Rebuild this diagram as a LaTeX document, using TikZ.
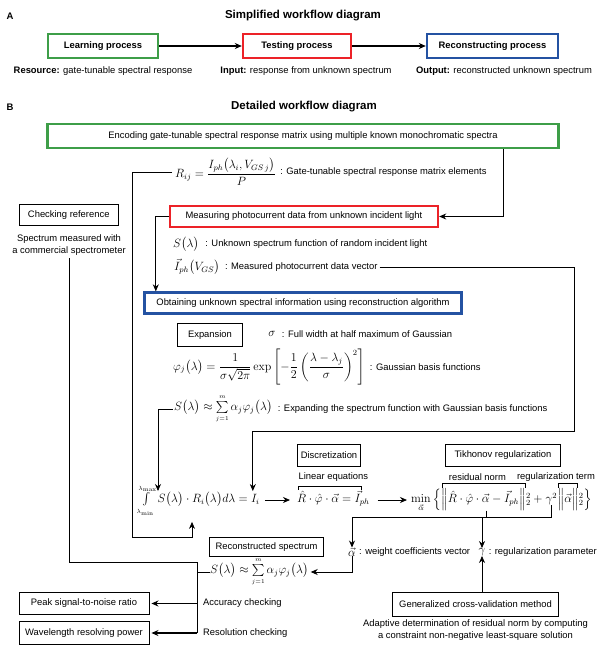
\documentclass[tikz,border=0pt]{standalone}
\usepackage[no-math]{fontspec}
\setmainfont{Liberation Sans}
\usepackage{amsmath}
\usetikzlibrary{arrows.meta,calc,positioning}
\definecolor{learnGreen}{RGB}{62,158,72}
\definecolor{testRed}{RGB}{236,34,40}
\definecolor{reconBlue}{RGB}{36,82,162}

\begin{document}
\begin{tikzpicture}
[x=1pt,y=-1pt,
  procDecorate/.style={shape=rectangle,draw,line width=2.4pt,inner sep=0pt,font=\fontsize{9.4}{11}\selectfont\bfseries},%
  stageDecorate/.style={shape=rectangle,draw,line width=2.4pt,inner sep=0pt,font=\fontsize{9.4}{11}\selectfont},%
  boxDecorate/.style={shape=rectangle,draw,line width=0.9pt,inner sep=0pt,font=\fontsize{9.4}{11}\selectfont},%
  textDecorate/.style={inner sep=0pt,font=\fontsize{9.4}{11.5}\selectfont},%
  eqDecorate/.style={inner sep=0pt,font=\fontsize{11.5}{13}\selectfont},%
  lineDecorate/.style={-,line width=0.8pt},%
  arrowDecorate/.style={-{Stealth[length=7pt,width=6pt]},line width=0.8pt},%
  braceDecorate/.style={-,line width=0.7pt}]
\useasboundingbox (0,0) rectangle (605,659);
%% headings
\node (labelA) at (10,16) [font=\fontsize{9.5}{11}\selectfont\bfseries] {A};
\node (titleA) at (303,16) [font=\fontsize{11.5}{13}\selectfont\bfseries] {Simplified workflow diagram};
\node (labelB) at (10,107) [font=\fontsize{9.5}{11}\selectfont\bfseries] {B};
\node (titleB) at (304,107) [font=\fontsize{11.5}{13}\selectfont\bfseries] {Detailed workflow diagram};
%% simplified workflow
\foreach \nodename/\x/\w/\col/\txt in {learn/103/110/learnGreen/Learning process, test/297/108/testRed/Testing process, recon/492.5/131/reconBlue/Reconstructing process}
{
  \node (\nodename) at (\x,46) [procDecorate,draw=\col,minimum width=\w pt,minimum height=24pt] {\txt};
}
\foreach \nodename/\x/\key/\txt in {resource/103/Resource/gate-tunable spectral response, input/306/Input/response from unknown spectrum, output/504/Output/reconstructed unknown spectrum}
{
  \node (\nodename) at (\x,71) [textDecorate] {\textbf{\key:} \txt};
}
\draw[arrowDecorate,line width=1.2pt] (learn) -- (test);
\draw[arrowDecorate,line width=1.2pt] (test) -- (recon);
%% detailed workflow: coloured stages
\node (encode) at (303,136) [stageDecorate,draw=learnGreen,minimum width=511pt,minimum height=24pt] {Encoding gate-tunable spectral response matrix using multiple known monochromatic spectra};
\node (measure) at (304,216.5) [stageDecorate,draw=testRed,minimum width=268pt,minimum height=21pt] {Measuring photocurrent data from unknown incident light};
\node (obtain) at (303,303) [stageDecorate,draw=reconBlue,minimum width=317pt,minimum height=21pt] {Obtaining unknown spectral information using reconstruction algorithm};
%% black boxes
\foreach \nodename/\x/\y/\w/\h/\txt in {check/68.75/215/99/21/Checking reference, expand/210/335/65/23/Expansion, discrete/329/455.5/63/22/Discretization, tikhonov/503/455.5/115/22/Tikhonov regularization, reconSpec/266.5/547/114/19/Reconstructed spectrum, peak/84/603.5/130/22/Peak signal-to-noise ratio, wave/84/633/130/23/Wavelength resolving power, gcv/475.5/604.5/166/24/Generalized cross-validation method}
{
  \node (\nodename) at (\x,\y) [boxDecorate,minimum width=\w pt,minimum height=\h pt] {\txt};
}
\node (spectrumRef) at (69,245) [textDecorate,align=center] {Spectrum measured with\\a commercial spectrometer};
%% equations and their meanings
\node (rij) at (175,172) [eqDecorate,anchor=west] {$R_{ij}=\dfrac{I_{ph}\big(\lambda_i,V_{GS\,j}\big)}{P}$};
\node (rijText) [textDecorate,right=4pt of rij] {: Gate-tunable spectral response matrix elements};
\node (sUnknown) at (173,244) [eqDecorate,anchor=west] {$S\big(\lambda\big)$};
\node (sUnknownText) [textDecorate,right=6pt of sUnknown] {: Unknown spectrum function of random incident light};
\node (iph) at (174,267) [eqDecorate,anchor=west] {$\vec I_{ph}\big(V_{GS}\big)$};
\node (iphText) [textDecorate,right=5pt of iph] {: Measured photocurrent data vector};
\node (sigma) at (272,334) [eqDecorate] {$\sigma$};
\node (sigmaText) [textDecorate,right=6pt of sigma] {: Full width at half maximum of Gaussian};
\node (phiEq) at (173,367) [eqDecorate,anchor=west] {$\varphi_j\big(\lambda\big)=\dfrac{1}{\sigma\sqrt{2\pi}}\exp\left[-\dfrac{1}{2}\left(\dfrac{\lambda-\lambda_j}{\sigma}\right)^{2}\right]$};
\node (phiText) [textDecorate,right=5pt of phiEq] {: Gaussian basis functions};
\node (sExpand) at (174,409) [eqDecorate,anchor=west] {$S\big(\lambda\big)\approx\sum\limits_{\scriptscriptstyle j=1}^{\scriptscriptstyle m}\alpha_j\varphi_j\big(\lambda\big)$};
\node (sExpandText) [textDecorate,right=5pt of sExpand] {: Expanding the spectrum function with Gaussian basis functions};
\node (intEq) at (137,500) [eqDecorate,anchor=mid west] {$\int\limits_{\scriptscriptstyle\lambda_{\min}}^{\scriptscriptstyle\lambda_{\max}}S\big(\lambda\big)\cdot R_i\big(\lambda\big)d\lambda=I_i$};
\node (linEq) at (297,500) [eqDecorate,anchor=mid west] {$\hat R\cdot\hat\varphi\cdot\vec\alpha=\vec I_{ph}$};
\node (minOp) at (411,500) [eqDecorate,anchor=mid west] {$\min\limits_{\vec\alpha}\Big\{$};
\node (minRes) at (minOp.base east) [eqDecorate,anchor=base west] {$\Big\|\hat R\cdot\hat\varphi\cdot\vec\alpha-\vec I_{ph}\Big\|$};
\node (minSq) at (minRes.base east) [eqDecorate,anchor=base west] {${}_2^2+{}$};
\node (minReg) at (minSq.base east) [eqDecorate,anchor=base west] {$\gamma^2$};
\node (minNorm) at (minReg.base east) [eqDecorate,anchor=base west] {$\Big\|\vec\alpha\Big\|$};
\node (minEnd) at (minNorm.base east) [eqDecorate,anchor=base west] {${}_2^2\Big\}$};
\node (linLbl) at (linEq.north |- 0,477) [textDecorate] {Linear equations};
\node (resLbl) at ($(minRes.north |- 0,477)+(-6,0)$) [textDecorate] {residual norm};
\node (regLbl) at ($(minNorm.north |- 0,477)+(-12,0)$) [textDecorate] {regularization term};
\node (alphaLbl) at (352,552) [eqDecorate] {$\vec\alpha$};
\node (alphaText) [textDecorate,right=3pt of alphaLbl] {: weight coefficients vector};
\node (gammaLbl) at (482,552) [eqDecorate] {$\gamma$};
\node (gammaText) [textDecorate,right=3pt of gammaLbl] {: regularization parameter};
\node (sRecon) at (210,572) [eqDecorate,anchor=west] {$S\big(\lambda\big)\approx\sum\limits_{\scriptscriptstyle j=1}^{\scriptscriptstyle m}\alpha_j\varphi_j\big(\lambda\big)$};
\node (adaptText) [textDecorate,align=center,below=3pt of gcv] {Adaptive determination of residual norm by computing\\a constraint non-negative least-square solution};
%% brackets
\draw[braceDecorate] ($(linEq.north west)+(1,-1)$) -- ++(0,-4) -| ($(linEq.north east)+(-8,-1)$);
\draw[braceDecorate] ($(minRes.north west)+(1,-1)$) -- ++(0,-4) -| ($(minRes.north east)+(-1,-1)$);
\draw[braceDecorate] ($(minNorm.north west)+(1,-1)$) -- ++(0,-4) -| ($(minNorm.north east)+(-1,-1)$);
%% turning points
\coordinate (encTurn) at (503,216);
\coordinate (iphTurn) at (574,431);
\coordinate (rijTurn) at (132,537);
\coordinate (checkJoin) at (197,562);
\coordinate (splitRow) at (0,517);
\coordinate (iTip) at ($(intEq.north east)+(-7,6)$);
\coordinate (sTip) at ($(intEq.north west)+(21,6)$);
\coordinate (riTip) at ($(intEq.south west)+(55,5)$);
\coordinate (minAlpha) at ($(minRes.south west)!0.54!(minRes.south east)$);
%% connectors
\draw[arrowDecorate] (encode.south -| encTurn) |- (measure.east);
\draw[arrowDecorate] (measure.west) -| ($(obtain.north west)+(12.5,0)$);
\draw[arrowDecorate] ($(rij.west)+(-3,0)$) -| (rijTurn) -| (riTip);
\draw[arrowDecorate] ($(iphText.east)+(2,0)$) -| (iphTurn) -| (iTip);
\draw[arrowDecorate] ($(sExpand.west)+(-1,0)$) -| (sTip);
\draw[arrowDecorate,shorten <=5pt,shorten >=7pt] (intEq.mid east) -- (linEq.mid west);
\draw[arrowDecorate,shorten <=8pt,shorten >=4pt] (linEq.mid east) -- (minOp.mid west);
\draw[arrowDecorate] (minAlpha) -- (minAlpha |- splitRow) -| (alphaLbl.north);
\draw[arrowDecorate] (minReg.south) -- (minReg.south |- splitRow) -| (gammaLbl.north);
\draw[arrowDecorate,shorten >=2pt] (alphaLbl.south) |- (sRecon.east);
\draw[arrowDecorate] (gcv.north -| gammaLbl) -- (gammaLbl.south);
\draw[lineDecorate] ($(spectrumRef.south)+(0,3)$) |- (checkJoin) -- (checkJoin |- wave);
\draw[lineDecorate] (sRecon.west) -- (sRecon.west -| checkJoin);
\draw[arrowDecorate,line width=1.1pt,shorten >=2pt] (checkJoin |- peak) -- (peak.east);
\draw[arrowDecorate,line width=1.1pt,shorten >=2pt] (checkJoin |- wave) -- (wave.east);
\node (accText) at ($(checkJoin |- peak)+(6,0)$) [textDecorate,anchor=west] {Accuracy checking};
\node (resText) at ($(checkJoin |- wave)+(6,0)$) [textDecorate,anchor=west] {Resolution checking};
\end{tikzpicture}
\end{document}
